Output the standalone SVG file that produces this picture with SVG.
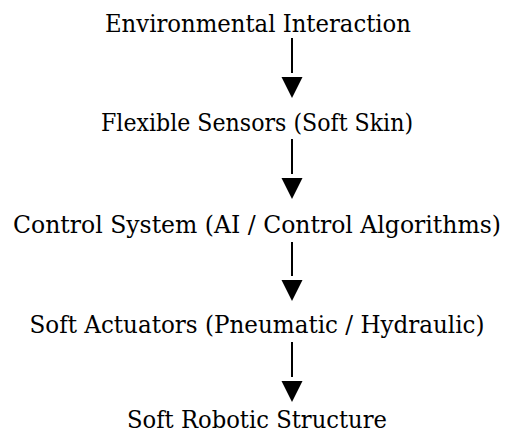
<svg xmlns="http://www.w3.org/2000/svg" width="507" height="438" viewBox="0 0 507 438">
<style>
text{font-family:'DejaVu Serif',serif;font-size:25px;fill:#000;text-anchor:middle}
.ln{stroke:#000;stroke-width:2;fill:none}
.hd{fill:#000}
</style>
<rect width="507" height="438" fill="#fff"/>
<g id="connectors">
<line class="ln" x1="292" y1="38" x2="292" y2="73"/>
<polygon class="hd" points="281.5,77 302.5,77 292,98"/>
<line class="ln" x1="292" y1="139" x2="292" y2="174"/>
<polygon class="hd" points="281.5,178 302.5,178 292,199"/>
<line class="ln" x1="292" y1="242" x2="292" y2="276"/>
<polygon class="hd" points="281.5,280 302.5,280 292,301"/>
<line class="ln" x1="292" y1="342" x2="292" y2="377"/>
<polygon class="hd" points="281.5,381 302.5,381 292,402"/>
</g>
<g id="env"><text x="258" y="31.5" textLength="306" lengthAdjust="spacingAndGlyphs">Environmental Interaction</text></g>
<g id="sensors"><text x="257" y="130.7" textLength="312" lengthAdjust="spacingAndGlyphs">Flexible Sensors (Soft Skin)</text></g>
<g id="control"><text x="257" y="232.7" textLength="488" lengthAdjust="spacingAndGlyphs">Control System (AI / Control Algorithms)</text></g>
<g id="actuators"><text x="257" y="333" textLength="455" lengthAdjust="spacingAndGlyphs">Soft Actuators (Pneumatic / Hydraulic)</text></g>
<g id="structure"><text x="257" y="428" textLength="260" lengthAdjust="spacingAndGlyphs">Soft Robotic Structure</text></g>
</svg>
